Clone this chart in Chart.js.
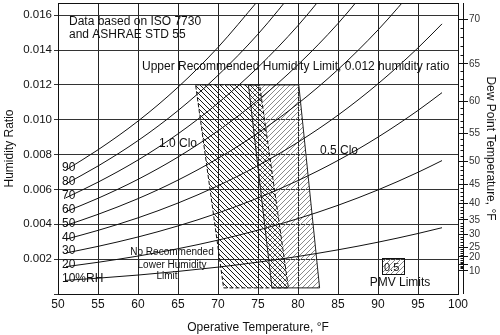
<!DOCTYPE html>
<html>
<head>
<meta charset="utf-8">
<script src="https://cdn.jsdelivr.net/npm/chart.js@4.4.1/dist/chart.umd.min.js"></script>
<style>
  html, body { margin: 0; padding: 0; background: #fff; }
</style>
</head>
<body>
<canvas id="psychroChart" width="500" height="335"></canvas>
<script>
// 作用温度 (°F)
const tempF = [51, 55, 60, 65, 70, 75, 80, 85, 90, 95, 98];

// 相対湿度ごとの絶対湿度 (上端を越えたところで打ち切り)
const rhLevels = [10, 20, 30, 40, 50, 60, 70, 80, 90];
const rh10 = [0.000783, 0.000909, 0.001087, 0.001297, 0.001542, 0.001826, 0.002155, 0.002535, 0.002973, 0.003472, 0.003804];
const rh20 = [0.001568, 0.00182, 0.002178, 0.002599, 0.003091, 0.003663, 0.004325, 0.00509, 0.005974, 0.006984, 0.007656];
const rh30 = [0.002355, 0.002734, 0.003272, 0.003906, 0.004648, 0.00551, 0.006511, 0.007666, 0.009004, 0.010535, 0.011555];
const rh40 = [0.003144, 0.003651, 0.004371, 0.005219, 0.006213, 0.007369, 0.008711, 0.010264, 0.012063, 0.014126, 0.015502];
const rh50 = [0.003936, 0.004571, 0.005473, 0.006537, 0.007785, 0.009238, 0.010927, 0.012883, 0.015153, 0.017758];
const rh60 = [0.004729, 0.005493, 0.00658, 0.007861, 0.009366, 0.011119, 0.013159, 0.015524, 0.018272];
const rh70 = [0.005524, 0.006418, 0.00769, 0.009191, 0.010954, 0.013011, 0.015407, 0.018187];
const rh80 = [0.006321, 0.007345, 0.008804, 0.010526, 0.012551, 0.014914, 0.01767];
const rh90 = [0.00712, 0.008276, 0.009922, 0.011867, 0.014155, 0.016829];
const rhSeries = [rh10, rh20, rh30, rh40, rh50, rh60, rh70, rh80, rh90];

// 快適域 (PMV) の四隅
const clo10T = [67.2, 75.2, 78.8, 70.7, 67.2];
const clo05T = [73.8, 80.1, 82.7, 76.75, 73.8];
const cloW = [0.012, 0.012, 0.00035, 0.00035, 0.012];

// 左軸の目盛り
const ratioTicks = [0, 0.002, 0.004, 0.006, 0.008, 0.010, 0.012, 0.014, 0.016];

// 右軸: 露点温度と対応する絶対湿度
const dewPointTicks = [10, 15, 20, 25, 30, 35, 40, 45, 50, 55, 60, 65, 70];
const dewPointRatio = [0.001325, 0.001682, 0.002135, 0.002676, 0.003439, 0.004258, 0.005195, 0.006309, 0.007632, 0.009209, 0.011044, 0.013213, 0.015768];
const hiddenDewLabels = [15];

const FONT = '"Liberation Sans", Arial, Helvetica, sans-serif';
Chart.defaults.font.family = FONT;
Chart.defaults.color = '#111';

// 斜線ハッチのパターン
function makeHatch(color, dir, size) {
    const c = document.createElement('canvas');
    c.width = size; c.height = size;
    const g = c.getContext('2d');
    g.strokeStyle = color;
    g.lineWidth = 1;
    g.beginPath();
    if (dir === 'back') {
        g.moveTo(-1, -1); g.lineTo(size + 1, size + 1);
        g.moveTo(-1, size - 1); g.lineTo(1, size + 1);
        g.moveTo(size - 1, -1); g.lineTo(size + 1, 1);
    } else {
        g.moveTo(-1, size + 1); g.lineTo(size + 1, -1);
        g.moveTo(-1, 1); g.lineTo(1, -1);
        g.moveTo(size - 1, size + 1); g.lineTo(size + 1, size - 1);
    }
    g.stroke();
    return g.createPattern(c, 'repeat');
}
const hatchClo10 = makeHatch('#1a1a1a', 'back', 5);
const hatchClo05 = makeHatch('#8a8a8a', 'fwd', 5);

const rhDatasets = rhSeries.map(series => ({
    data: series.map((w, i) => ({ x: tempF[i], y: w })),
    showLine: true,
    borderColor: '#111',
    borderWidth: 1,
    pointRadius: 0,
    cubicInterpolationMode: 'monotone',
    fill: false,
    order: 1
}));

const zoneDatasets = [
    {
        data: clo05T.map((t, i) => ({ x: t, y: cloW[i] })),
        showLine: true,
        borderColor: '#222',
        borderWidth: 1,
        pointRadius: 0,
        tension: 0,
        fill: 'shape',
        backgroundColor: hatchClo05,
        order: 3
    },
    {
        data: clo10T.map((t, i) => ({ x: t, y: cloW[i] })),
        showLine: true,
        borderColor: '#111',
        borderWidth: 1,
        borderDash: [4, 2],
        pointRadius: 0,
        tension: 0,
        fill: 'shape',
        backgroundColor: hatchClo10,
        order: 2
    }
];

// 注記・右軸の補助目盛り
const notesPlugin = {
    id: 'chartNotes',
    afterDatasetsDraw(chart) {
        const ctx = chart.ctx;
        const xs = chart.scales.x, ys = chart.scales.y;
        ctx.save();
        ctx.fillStyle = '#111';
        ctx.textBaseline = 'middle';
        ctx.textAlign = 'left';
        ctx.font = '12px ' + FONT;
        ctx.fillText('Data based on ISO 7730', 69, 22);
        ctx.fillText('and ASHRAE STD 55', 69, 35);
        ctx.fillText('Upper Recommended Humidity Limit, 0.012 humidity ratio', 142, 67);
        ctx.fillText('1.0 Clo', 159, 144);
        ctx.fillText('0.5 Clo', 320, 151);

        // 相対湿度ラベル（各曲線の始点）
        rhSeries.forEach((series, i) => {
            const py = ys.getPixelForValue(series[0]);
            const label = rhLevels[i] === 10 ? '10%RH' : String(rhLevels[i]);
            ctx.fillText(label, xs.left + 4, py - 2);
        });

        ctx.font = '10px ' + FONT;
        ctx.textAlign = 'center';
        ctx.fillText('No Recommended', 172, 252);
        ctx.fillText('Lower Humidity', 172, 265);
        ctx.fillText('Limit', 167, 276);

        // PMV 凡例
        ctx.fillStyle = hatchClo05;
        ctx.fillRect(382, 258, 23, 17);
        ctx.strokeStyle = '#111';
        ctx.lineWidth = 1;
        ctx.strokeRect(382.5, 258.5, 22, 16);
        ctx.fillStyle = '#111';
        ctx.font = '11px ' + FONT;
        ctx.textAlign = 'left';
        ctx.fillText('0.5', 384, 268);
        ctx.font = '12px ' + FONT;
        ctx.textAlign = 'center';
        ctx.fillText('PMV Limits', 400, 283);
        ctx.restore();
    },
    afterDraw(chart) {
        const ctx = chart.ctx;
        const y2 = chart.scales.y2;
        const area = chart.chartArea;
        const axisX = Math.round(y2.left) + 5.5;
        ctx.save();
        ctx.strokeStyle = '#111';
        ctx.lineWidth = 1;
        ctx.beginPath();
        // 上枠
        ctx.moveTo(area.left, Math.round(area.top) + 0.5);
        ctx.lineTo(area.right, Math.round(area.top) + 0.5);
        // 右軸の二重線と1°F刻みの補助目盛り
        ctx.moveTo(axisX, area.top);
        ctx.lineTo(axisX, area.bottom);
        for (let i = 0; i < dewPointTicks.length - 1; i++) {
            const steps = dewPointTicks[i + 1] - dewPointTicks[i];
            for (let k = 1; k < steps; k++) {
                const w = dewPointRatio[i] + (dewPointRatio[i + 1] - dewPointRatio[i]) * k / steps;
                const py = Math.round(y2.getPixelForValue(w)) + 0.5;
                ctx.moveTo(axisX - 3, py);
                ctx.lineTo(axisX, py);
            }
        }
        ctx.stroke();
        ctx.restore();
    }
};

new Chart(document.getElementById('psychroChart').getContext('2d'), {
    type: 'scatter',
    data: { datasets: [...rhDatasets, ...zoneDatasets] },
    options: {
        responsive: false,
        animation: false,
        layout: { padding: { top: 3, left: 0, right: 0, bottom: 0 } },
        plugins: { legend: { display: false }, tooltip: { enabled: false } },
        scales: {
            x: {
                type: 'linear',
                min: 50,
                max: 100,
                ticks: { stepSize: 5, font: { size: 12 }, padding: 3, color: '#111', maxRotation: 0 },
                grid: { color: '#222', lineWidth: 1, tickLength: 0 },
                border: { color: '#111' },
                title: { display: true, text: 'Operative Temperature, °F', font: { size: 12 }, padding: { top: 0, bottom: 0 }, color: '#111' },
                afterFit: s => { s.height = 41; s.paddingLeft = 0; s.paddingRight = 0; }
            },
            y: {
                type: 'linear',
                min: 0,
                max: 0.0167,
                afterBuildTicks: s => { s.ticks = ratioTicks.map(v => ({ value: v })); },
                ticks: {
                    autoSkip: false,
                    font: { size: 11.5 },
                    padding: 2,
                    color: '#111',
                    callback: v => v > 0 ? v.toFixed(3) : ''
                },
                grid: { color: '#333', lineWidth: 1, tickLength: 4 },
                border: { color: '#111' },
                title: { display: true, text: 'Humidity Ratio', font: { size: 12 }, padding: { top: 2, bottom: 0 }, color: '#111' },
                afterFit: s => { s.width = 58; s.paddingTop = 0; s.paddingBottom = 0; }
            },
            y2: {
                type: 'linear',
                position: 'right',
                min: 0,
                max: 0.0167,
                afterBuildTicks: s => { s.ticks = dewPointRatio.map(v => ({ value: v })); },
                ticks: {
                    autoSkip: false,
                    font: { size: 10 },
                    padding: 1,
                    color: '#333',
                    callback: (v, i) => hiddenDewLabels.includes(dewPointTicks[i]) ? '' : String(dewPointTicks[i])
                },
                grid: { drawOnChartArea: false, color: '#111', tickLength: 10 },
                border: { color: '#111' },
                title: { display: true, text: 'Dew Point Temperature, °F', font: { size: 12 }, padding: { top: 2, bottom: 0 }, color: '#111' },
                afterFit: s => { s.width = 42; s.paddingTop = 0; s.paddingBottom = 0; }
            }
        }
    },
    plugins: [notesPlugin]
});
</script>
</body>
</html>
